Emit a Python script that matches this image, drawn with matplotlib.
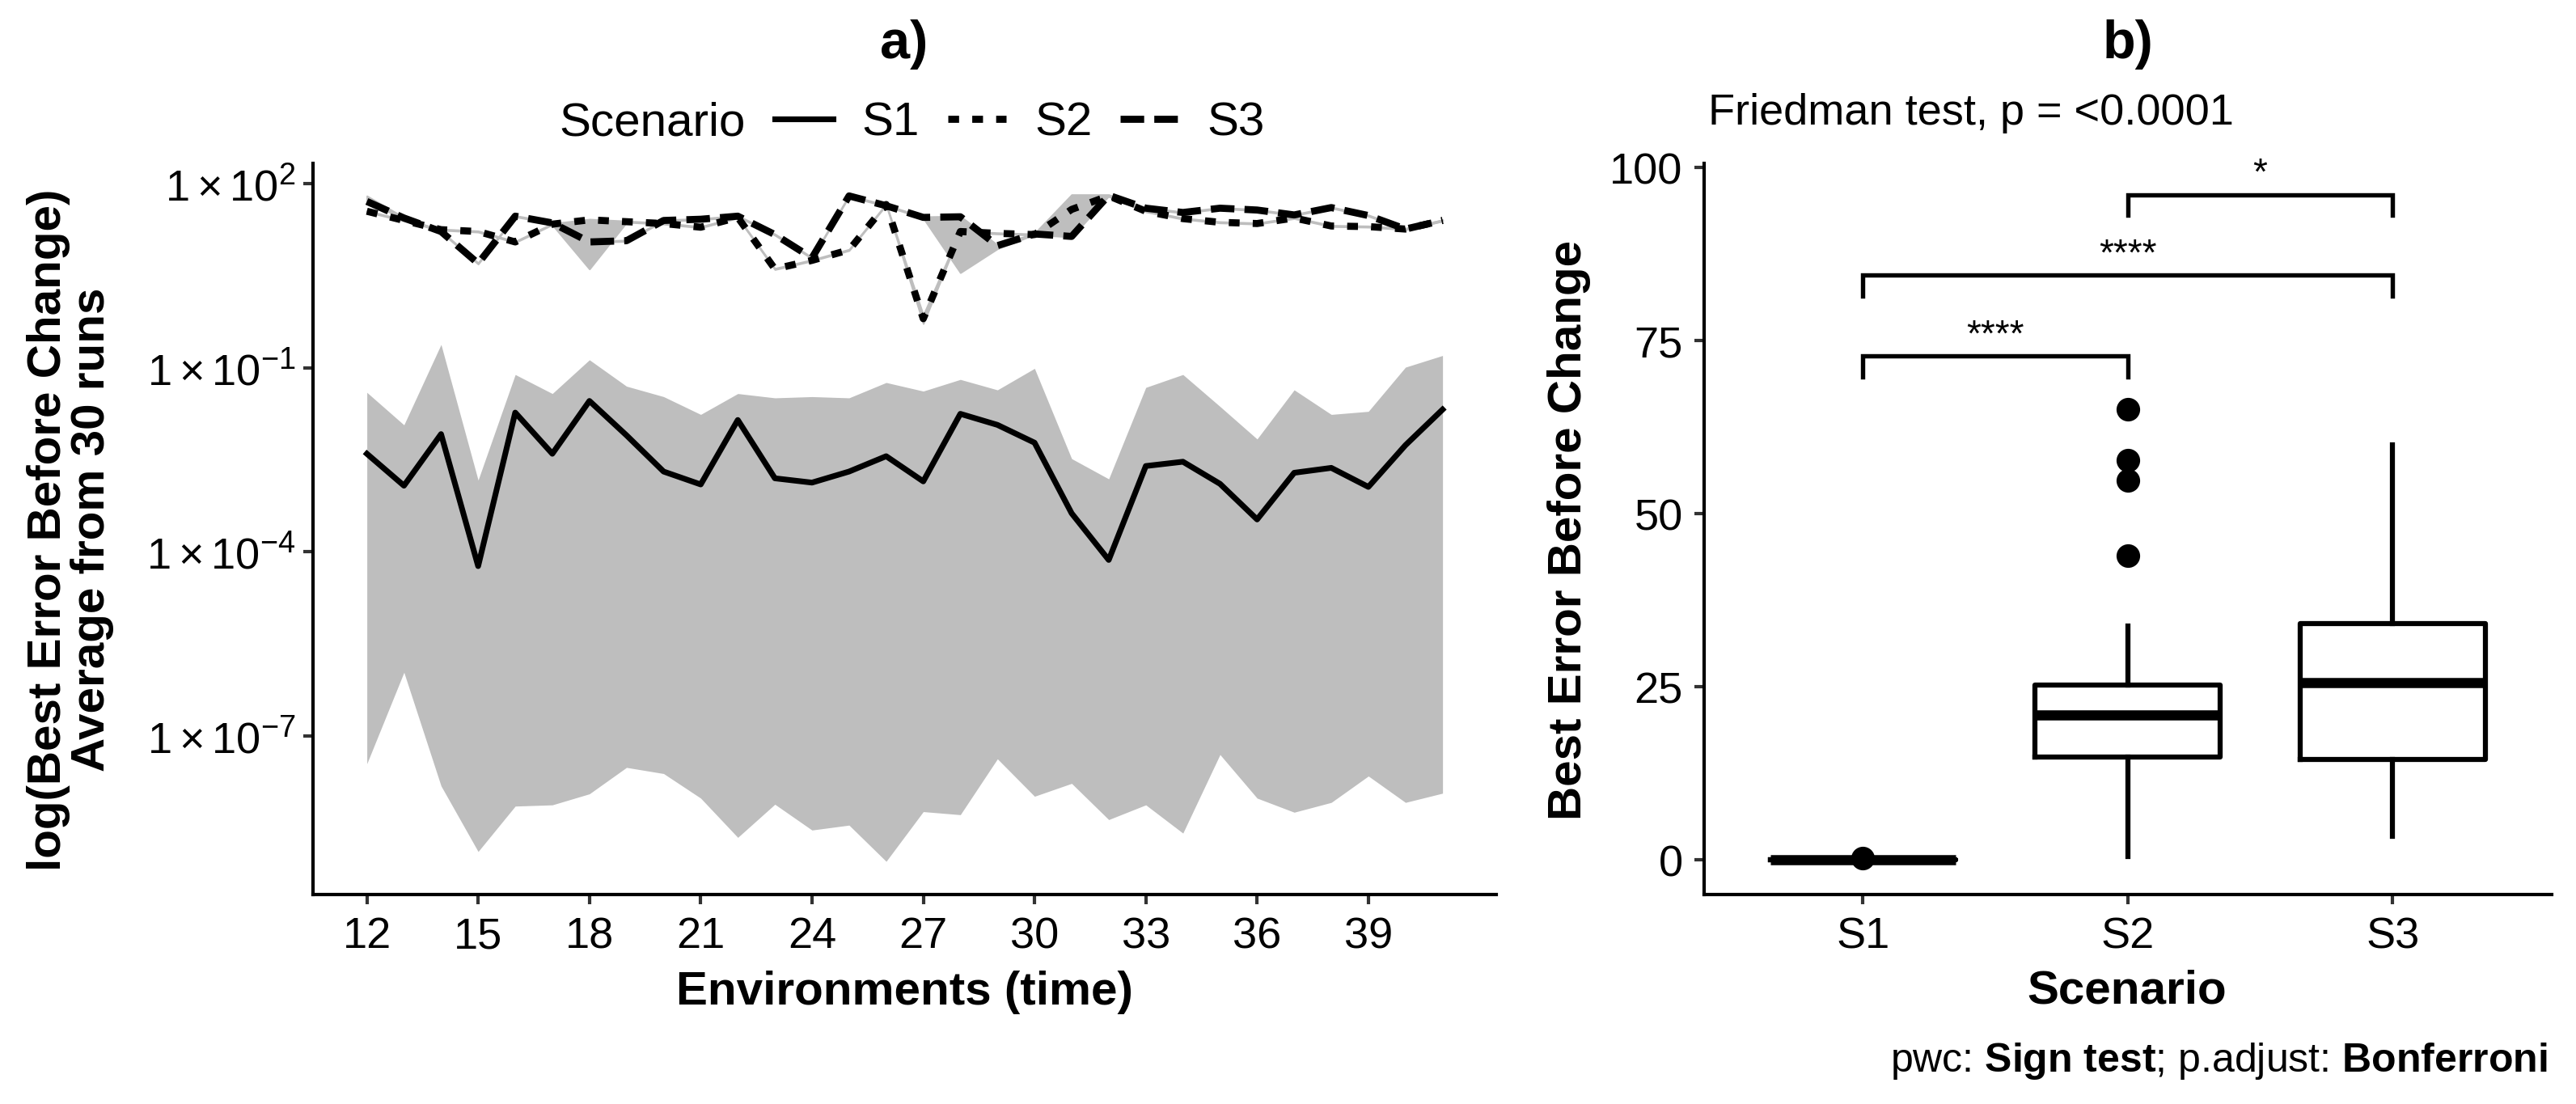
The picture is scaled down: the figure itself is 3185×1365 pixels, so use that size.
import matplotlib.pyplot as plt
import numpy as np
from matplotlib.ticker import NullLocator

plt.rcParams['font.family'] = ['Liberation Sans', 'DejaVu Sans']
plt.rcParams['mathtext.fontset'] = 'custom'
plt.rcParams['mathtext.rm'] = 'Liberation Sans'
plt.rcParams['mathtext.bf'] = 'Liberation Sans:bold'
plt.rcParams['mathtext.it'] = 'Liberation Sans:italic'
plt.rcParams['lines.scale_dashes'] = False

# ---- panel a data (log10 of best error before change, mean of 30 runs) ----
env = list(range(12, 42))

s1_mean = [-2.40, -2.92, -2.08, -4.23, -1.73, -2.40, -1.54, -2.10, -2.69, -2.90,
           -1.85, -2.80, -2.87, -2.69, -2.44, -2.85, -1.75, -1.93, -2.22, -3.37,
           -4.13, -2.60, -2.53, -2.89, -3.47, -2.71, -2.63, -2.94, -2.26, -1.68]
s1_upper = [-1.40, -1.93, -0.62, -2.83, -1.11, -1.42, -0.87, -1.30, -1.47, -1.76,
            -1.42, -1.49, -1.47, -1.49, -1.24, -1.38, -1.19, -1.36, -1.01, -2.48,
            -2.81, -1.32, -1.11, -1.63, -2.16, -1.36, -1.76, -1.71, -0.99, -0.80]
s1_lower = [-7.45, -5.96, -7.81, -8.88, -8.14, -8.12, -7.94, -7.51, -7.61, -8.01,
            -8.65, -8.11, -8.53, -8.45, -9.04, -8.23, -8.28, -7.37, -7.98, -7.77,
            -8.36, -8.12, -8.58, -7.30, -8.01, -8.24, -8.08, -7.65, -8.08, -7.93]

s2_mean = [1.55, 1.40, 1.25, 1.22, 1.05, 1.34, 1.41, 1.38, 1.35, 1.29,
           1.45, 0.61, 0.75, 0.92, 1.66, -0.20, 1.22, 1.19, 1.17, 1.58,
           1.80, 1.55, 1.43, 1.37, 1.35, 1.44, 1.31, 1.30, 1.26, 1.40]
s2_upper = [1.56, 1.41, 1.26, 1.23, 1.06, 1.35, 1.42, 1.39, 1.36, 1.30,
            1.46, 0.62, 0.76, 0.93, 1.67, -0.14, 1.23, 1.20, 1.18, 1.59,
            1.81, 1.56, 1.44, 1.38, 1.36, 1.45, 1.32, 1.31, 1.27, 1.41]
s2_lower = [1.54, 1.39, 1.24, 1.21, 1.04, 1.33, 0.61, 1.37, 1.34, 1.28,
            1.44, 0.60, 0.74, 0.91, 1.65, -0.28, 1.21, 1.18, 1.16, 1.57,
            1.79, 1.54, 1.42, 1.36, 1.34, 1.43, 1.30, 1.29, 1.25, 1.39]

s3_mean = [1.71, 1.44, 1.22, 0.70, 1.47, 1.36, 1.05, 1.07, 1.40, 1.42,
           1.47, 1.17, 0.79, 1.80, 1.64, 1.45, 1.46, 0.99, 1.18, 1.14,
           1.81, 1.60, 1.53, 1.60, 1.57, 1.49, 1.61, 1.48, 1.26, 1.40]
s3_upper = [1.80, 1.45, 1.23, 0.71, 1.48, 1.37, 1.06, 1.08, 1.41, 1.43,
            1.48, 1.18, 0.80, 1.81, 1.65, 1.46, 1.47, 1.00, 1.19, 1.82,
            1.82, 1.61, 1.54, 1.61, 1.58, 1.50, 1.62, 1.49, 1.27, 1.41]
s3_lower = [1.70, 1.43, 1.21, 0.69, 1.46, 1.35, 1.04, 1.06, 1.39, 1.41,
            1.46, 1.16, 0.78, 1.79, 1.63, 1.44, 0.55, 0.94, 1.17, 1.13,
            1.80, 1.59, 1.52, 1.59, 1.56, 1.48, 1.60, 1.47, 1.25, 1.39]

x_ticks = [12, 15, 18, 21, 24, 27, 30, 33, 36, 39]
y_ticks = [1e2, 1e-1, 1e-4, 1e-7]
y_ticklabels = [r'$1\times10^{2}$', r'$1\times10^{-1}$',
                r'$1\times10^{-4}$', r'$1\times10^{-7}$']

# ---- panel b data (box plot statistics) ----
scenarios = ['S1', 'S2', 'S3']
q1 = [0.0, 14.9, 14.5]
med = [0.0, 20.9, 25.6]
q3 = [0.0, 25.3, 34.1]
whis_lo = [0.0, 0.5, 3.4]
whis_hi = [0.0, 33.8, 60.0]
outliers = [[0.3], [65.1, 57.7, 54.8, 43.9], []]

# pairwise comparisons: (from, to, bracket height, label)
pairs = [(1, 2, 72.8, '****'), (1, 3, 84.5, '****'), (2, 3, 96.1, '*')]

grey = '#BEBEBE'
tick_col = '#333333'

fig = plt.figure(figsize=(10.62, 4.5533), dpi=300)

# ================= panel a =================
ax1 = fig.add_axes([0.1215, 0.1896, 0.4592, 0.6618])
ax1.set_yscale('log')

ax1.fill_between(env, 10 ** np.array(s1_lower), 10 ** np.array(s1_upper),
                 color=grey, lw=0)
for lo, up in [(s2_lower, s2_upper), (s3_lower, s3_upper)]:
    ax1.fill_between(env, 10 ** np.array(lo), 10 ** np.array(up),
                     facecolor=grey, edgecolor=grey, lw=0.5)

l1, = ax1.plot(env, 10 ** np.array(s1_mean), color='black', lw=1.7,
               solid_joinstyle='round')
l2, = ax1.plot(env, 10 ** np.array(s2_mean), color='black', lw=2.1,
               dashes=(3.2, 3.9), dash_capstyle='butt', dash_joinstyle='round')
l3, = ax1.plot(env, 10 ** np.array(s3_mean), color='black', lw=2.1,
               dashes=(7.0, 3.0), dash_capstyle='butt', dash_joinstyle='round')

ax1.set_xlim(10.55, 42.45)
ax1.set_ylim(10 ** -9.58, 10 ** 2.33)
ax1.set_xticks(x_ticks)
ax1.set_yticks(y_ticks)
ax1.set_yticklabels(y_ticklabels)
ax1.yaxis.set_minor_locator(NullLocator())
ax1.tick_params(axis='both', labelsize=13, length=2.9, width=1.0,
                color=tick_col, labelcolor='black')
ax1.tick_params(axis='x', pad=3.4)
ax1.tick_params(axis='y', pad=2.2)

# ================= panel b =================
ax2 = fig.add_axes([0.6613, 0.1896, 0.3289, 0.6618])
stats = []
for i in range(len(scenarios)):
    stats.append(dict(label=scenarios[i], q1=q1[i], med=med[i], q3=q3[i],
                      whislo=whis_lo[i], whishi=whis_hi[i], fliers=outliers[i]))
ax2.bxp(stats, positions=[1, 2, 3], widths=0.7, showcaps=False,
        boxprops=dict(color='black', lw=1.5),
        medianprops=dict(color='black', lw=3.0, solid_capstyle='butt'),
        whiskerprops=dict(color='black', lw=1.5),
        flierprops=dict(marker='o', markerfacecolor='black',
                        markeredgecolor='black', markersize=6))

for a, b, yb, lab in pairs:
    ax2.plot([a, a, b, b], [yb - 3.0, yb, yb, yb - 3.0], color='black',
             lw=1.3, solid_joinstyle='miter')
    ax2.text((a + b) / 2, yb + 0.4, lab, ha='center', va='bottom', fontsize=11)

ax2.set_xlim(0.4, 3.6)
ax2.set_ylim(-5.0, 100.6)
ax2.set_yticks([0, 25, 50, 75, 100])
ax2.set_xticks([1, 2, 3])
ax2.set_xticklabels(scenarios)
ax2.tick_params(axis='both', labelsize=13, length=2.9, width=1.0,
                color=tick_col, labelcolor='black')
ax2.tick_params(axis='x', pad=3.4)
ax2.tick_params(axis='y', pad=3.4)

for ax in (ax1, ax2):
    ax.spines['top'].set_visible(False)
    ax.spines['right'].set_visible(False)
    ax.spines['left'].set_linewidth(1.0)
    ax.spines['bottom'].set_linewidth(1.0)

# ================= text =================
fig.text(0.3509, 0.9597, 'a)', ha='center', va='center', fontsize=16,
         weight='bold')
fig.text(0.8258, 0.9597, 'b)', ha='center', va='center', fontsize=16,
         weight='bold')

fig.text(0.2169, 0.888, 'Scenario', ha='left', va='center', fontsize=14)
fig.legend([l1, l2, l3], scenarios, loc='center left',
           bbox_to_anchor=(0.3007, 0.888), ncol=3, frameon=False,
           fontsize=14, handlelength=1.24, handletextpad=0.6,
           columnspacing=0.6, borderpad=0, borderaxespad=0)

fig.text(0.0273, 0.5205, 'log(Best Error Before Change)\nAverage from 30 runs',
         rotation=90, ha='center', va='center', fontsize=14, weight='bold',
         linespacing=1.0)
fig.text(0.3509, 0.1017, 'Environments (time)', ha='center', va='center',
         fontsize=14, weight='bold')

fig.text(0.6089, 0.5205, 'Best Error Before Change', rotation=90,
         ha='center', va='center', fontsize=14, weight='bold')
fig.text(0.8255, 0.1032, 'Scenario', ha='center', va='center', fontsize=14,
         weight='bold')
fig.text(0.6629, 0.8975, 'Friedman test, p = <0.0001', ha='left', va='center',
         fontsize=13)
fig.text(0.9884, 0.0395,
         r'pwc: $\mathbf{Sign\ test}$; p.adjust: $\mathbf{Bonferroni}$',
         ha='right', va='center', fontsize=12)

fig.savefig('out.png', dpi=300)
